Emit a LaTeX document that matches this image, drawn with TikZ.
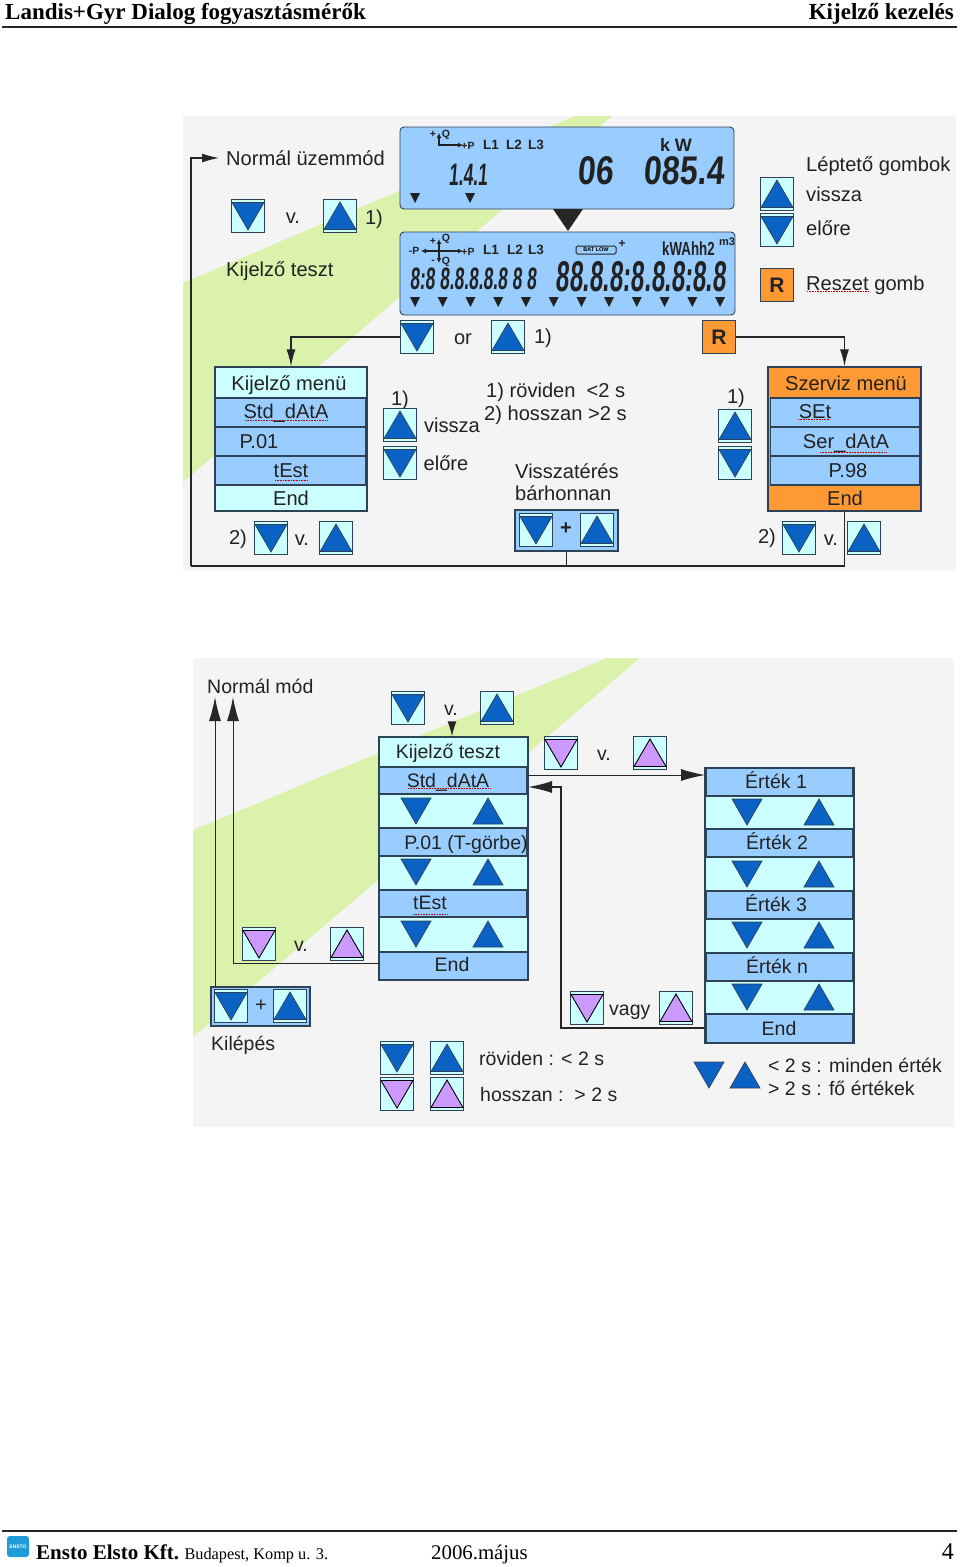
\documentclass[tikz,border=0pt]{standalone}
\usepackage{fontspec}
\usetikzlibrary{arrows.meta,calc}
\setmainfont{Liberation Sans}
\newfontfamily\serifx{Liberation Serif}
\newfontfamily\lcdf[FakeStretch=0.8,FakeSlant=0.08]{Liberation Sans}
\newfontfamily\lcdg[FakeStretch=0.56,FakeSlant=0.08]{Liberation Sans}
\newfontfamily\lcdn[FakeStretch=0.7]{Liberation Sans}
\definecolor{panel}{HTML}{F4F4F4}
\definecolor{stripe}{HTML}{DAF2AC}
\definecolor{rowblue}{HTML}{99CCFF}
\definecolor{pale}{HTML}{CCFFFF}
\definecolor{tri}{HTML}{0A62C4}
\definecolor{lila}{HTML}{CC99FF}
\definecolor{orng}{HTML}{FF9933}
\definecolor{edge}{HTML}{2E4256}
\definecolor{ink}{HTML}{222222}
\definecolor{logoblue}{HTML}{1E9BD8}
\tikzset{
  txt/.style={inner sep=0pt,text=ink,text height=17pt,text depth=2.5pt,font=\fontsize{20.1}{22}\selectfont},
  txtb/.style={inner sep=0pt,text=ink,text height=16.5pt,text depth=2.5pt,font=\fontsize{19.5}{21}\selectfont},
  btnbox/.style={draw=edge,line width=1.1pt,fill=pale,minimum width=33pt,minimum height=33pt,inner sep=0pt},
  rbox/.style={draw=edge,line width=1.1pt,fill=orng,minimum width=33pt,minimum height=33pt,inner sep=0pt,text=ink,font=\fontsize{21}{21}\selectfont\bfseries},
  trishape/.style={draw=edge,line width=.7pt,fill=tri},
  lilashape/.style={draw=black,line width=.9pt,fill=lila},
  frame/.style={draw=edge,line width=1.4pt,inner sep=0pt,fill=pale},
  rowbar/.style={draw=edge,line width=1.3pt,fill=rowblue,inner sep=0pt},
  combo/.style={draw=edge,line width=1.4pt,fill=rowblue,inner sep=0pt},
  lcd/.style={draw=edge,line width=.9pt,fill=rowblue,rounded corners=4pt,inner sep=0pt},
  conn/.style={draw=black!85,line width=1.2pt},
  tipsm/.style={-{Latex[length=17pt,width=9pt]}},
  bigtip/.style={-{Latex[length=24pt,width=12pt]}},
  lcdsmall/.style={inner sep=0pt,font=\fontsize{13.5}{14}\selectfont\bfseries,text=ink},
  lcdtiny/.style={inner sep=0pt,font=\fontsize{10.5}{11}\selectfont\bfseries,text=ink},
  lcdnum/.style={inner sep=0pt,text=ink},
  spell/.style={draw=red!75!black,line width=.6pt,densely dotted},
  headrule/.style={draw=black!85,line width=1.1pt},
  lcdmark/.style={fill=ink},
}
\newcommand\tdown[2]{\draw[trishape,shift={(#1,#2)}] (-15,-13)--(15,-13)--(0,13)--cycle;}
\newcommand\tup[2]{\draw[trishape,shift={(#1,#2)}] (-15,13)--(15,13)--(0,-13)--cycle;}
\newcommand\bdown[3]{\node[btnbox] (#1) at (#2,#3) {};
  \draw[trishape,shift={(#2,#3)}] (-16,-13.5)--(16,-13.5)--(0,14)--cycle;}
\newcommand\bup[3]{\node[btnbox] (#1) at (#2,#3) {};
  \draw[trishape,shift={(#2,#3)}] (-16,13.5)--(16,13.5)--(0,-14)--cycle;}
\newcommand\ldown[3]{\node[btnbox] (#1) at (#2,#3) {};
  \draw[lilashape,shift={(#2,#3)}] (-16,-13.5)--(16,-13.5)--(0,14)--cycle;}
\newcommand\lup[3]{\node[btnbox] (#1) at (#2,#3) {};
  \draw[lilashape,shift={(#2,#3)}] (-16,13.5)--(16,13.5)--(0,-14)--cycle;}
\newcommand\mk[2]{\fill[lcdmark,shift={(#1,#2)}] (-5,-5)--(5,-5)--(0,5)--cycle;}
\newcommand\spl[3]{\draw[spell] (#1,#3)--(#2,#3);}
\begin{document}
\begin{tikzpicture}[x=1pt,y=-1pt]
\useasboundingbox (0,0) rectangle (960,1567);
% ---- header / footer
\node[anchor=base west,inner sep=0pt,font=\serifx\bfseries\fontsize{23}{24}\selectfont] (head1) at (5,19) {Landis+Gyr Dialog fogyasztásmérők};
\node[anchor=base east,inner sep=0pt,font=\serifx\bfseries\fontsize{23}{24}\selectfont] (head2) at (954,19) {Kijelző kezelés};
\draw[headrule] (2,27)--(957,27);
\draw[headrule] (2,1531)--(957,1531);
\node[fill=logoblue,rounded corners=3pt,minimum width=22pt,minimum height=21pt,inner sep=0pt,text=white,font=\fontsize{5}{5}\selectfont\bfseries] (logo) at (18,1546.5) {ENSTO};
\node[anchor=base west,inner sep=0pt,font=\serifx\fontsize{16.3}{17}\selectfont] (foot1) at (36,1559) {{\bfseries\fontsize{21}{22}\selectfont Ensto Elsto Kft.} Budapest, Komp u. 3.};
\node[anchor=base west,inner sep=0pt,font=\serifx\fontsize{20.8}{21}\selectfont] (foot2) at (431,1559) {2006.május};
\node[anchor=base east,inner sep=0pt,font=\serifx\fontsize{24}{25}\selectfont] (foot3) at (954,1559) {4};
% ---- panels
\fill[panel] (183,116) rectangle (956,571);
\fill[stripe] (183,283)--(575,116)--(612,116)--(183,482)--cycle;
\fill[panel] (193,658) rectangle (954,1127);
\fill[stripe] (193,830)--(607,658)--(640,658)--(193,1037)--cycle;
% ---- LCD 1
\node[lcd,minimum width=334pt,minimum height=82pt] (lcdA) at (567,168) {};
\node[lcd,minimum width=335pt,minimum height=83pt] (lcdB) at (567.5,273.5) {};
\fill[black!85] (553,209)--(583,209)--(568,231)--cycle;
\draw[line width=1.5pt,ink,{Latex[length=5pt,width=5pt]}-{Latex[length=5pt,width=5pt]}] (439,133)--(439,145)--(463,145);
\node[lcdtiny] (a1) at (433,134) {+};
\node[lcdtiny] (a2) at (446,135) {Q};
\node[lcdtiny] (a3) at (468,146) {+P};
\node[lcdsmall] (a4) at (491,144.5) {L1};
\node[lcdsmall] (a5) at (514,144.5) {L2};
\node[lcdsmall] (a6) at (536,144.5) {L3};
\node[lcdsmall,font=\fontsize{18}{18}\selectfont\bfseries] (a7) at (676,145) {k W};
\node[lcdnum,font=\lcdg\bfseries\fontsize{31}{31}\selectfont] (a8) at (468,175) {1.4.1};
\node[lcdnum,font=\lcdf\bfseries\fontsize{40}{40}\selectfont] (a9) at (595,171) {06};
\node[lcdnum,font=\lcdf\bfseries\fontsize{40}{40}\selectfont] (a10) at (684,171) {085.4};
\mk{415}{198}\mk{470}{198}
% ---- LCD 2
\draw[line width=1.2pt,ink,{Latex[length=5pt,width=5pt]}-{Latex[length=5pt,width=5pt]}] (421,251)--(463,251);
\draw[line width=1.5pt,ink,{Latex[length=5pt,width=5pt]}-{Latex[length=5pt,width=5pt]}] (439,239)--(439,263);
\node[lcdtiny] (b1) at (433,241) {+};
\node[lcdtiny] (b2) at (446,239) {Q};
\node[lcdtiny] (b3) at (433,262) {-};
\node[lcdtiny] (b4) at (446,262) {Q};
\node[lcdtiny] (b5) at (414,251) {-P};
\node[lcdtiny] (b6) at (468,252) {+P};
\node[lcdsmall] (b7) at (491,249.5) {L1};
\node[lcdsmall] (b8) at (515,249.5) {L2};
\node[lcdsmall] (b9) at (536,249.5) {L3};
\node[draw=ink,line width=1pt,rounded corners=1.5pt,minimum width=40pt,minimum height=8pt,inner sep=0pt,font=\fontsize{5.5}{5.5}\selectfont\bfseries] (b10) at (596,250) {BAT LOW};
\node[lcdtiny,font=\fontsize{12}{12}\selectfont\bfseries] (b11) at (622,244) {+};
\node[lcdsmall,font=\lcdn\fontsize{19}{19}\selectfont\bfseries,anchor=west] (b12) at (662,249) {kWAhh2};
\node[lcdsmall,font=\fontsize{11}{11}\selectfont\bfseries,anchor=west] (b14) at (719,242) {m3};
\node[lcdnum,font=\lcdg\bfseries\fontsize{31}{31}\selectfont] (b15) at (473,279) {8:8 8.8.8.8.8 8 8};
\node[lcdnum,font=\lcdg\bfseries\fontsize{43}{43}\selectfont] (b16) at (641,277) {88.8.8:8.8.8:8.8};
\foreach \i in {0,...,11}{\pgfmathsetmacro\xx{415+\i*27.73}\mk{\xx}{302}}
% ---- upper controls
\node[txt,anchor=west] (normal) at (226,158) {Normál üzemmód};
\coordinate (normaltip) at (219,158);
\bdown{d1}{248}{216}
\node[txt] (v1) at (293,216) {v.};
\bup{u1}{340}{216}
\node[txt] (n1) at (374,217) {1)};
\node[txt,anchor=west] (kt) at (226,269) {Kijelző teszt};
\bup{u2}{777}{194}
\bdown{d2}{777}{230}
\node[rbox] (r1) at (777,285) {R};
\node[txt,anchor=west] (lg) at (806,164) {Léptető gombok};
\node[txt,anchor=west] (lv) at (806,194) {vissza};
\node[txt,anchor=west] (le) at (806,228) {előre};
\node[txt,anchor=west] (lr) at (806,283) {Reszet gomb};
\spl{807}{868}{291}
\bdown{d3}{417}{337}
\node[txt] (or1) at (463,337) {or};
\bup{u3}{508}{337}
\node[txt] (n2) at (543,336) {1)};
\node[rbox] (r2) at (719,337) {R};
% ---- Kijelzo menu
\node[frame,minimum width=152pt,minimum height=144pt] (kmenu) at (291,439) {};
\node[rowbar,minimum width=150pt,minimum height=29pt] (k1) at (290.5,412.5) {};
\node[rowbar,minimum width=150pt,minimum height=29pt] (k2) at (290.5,441.5) {};
\node[rowbar,minimum width=150pt,minimum height=29pt] (k3) at (290.5,470.5) {};
\node[txt] (kt0) at (289,383) {Kijelző menü};
\node[txt] (kt1) at (286,411) {Std\_dAtA};
\node[txt] (kt2) at (259,441) {P.01};
\node[txt] (kt3) at (291,470) {tEst};
\node[txt] (kt4) at (291,498) {End};
\spl{245}{327}{420}\spl{275}{308}{480}
% ---- middle
\node[txt] (n3) at (400,398) {1)};
\bup{u4}{400}{425}
\bdown{d4}{400}{463}
\node[txt] (mv) at (452,425) {vissza};
\node[txt] (me) at (446,463) {előre};
\node[txt,anchor=west] (m1) at (486,390) {1) röviden\ \ <2 s};
\node[txt,anchor=west] (m2) at (484,413) {2) hosszan >2 s};
\node[txt,anchor=west] (m3) at (515,471) {Visszatérés};
\node[txt,anchor=west] (m4) at (515,493) {bárhonnan};
\node[combo,minimum width=103pt,minimum height=41pt] (comboA) at (566.5,530.5) {};
\bdown{d5}{536}{530}
\bup{u5}{597}{530}
\node[inner sep=0pt,text=ink,font=\fontsize{20}{20}\selectfont\bfseries] (plusA) at (566,529) {+};
\node[txt] (n4) at (736,396) {1)};
\bup{u6}{735}{426}
\bdown{d6}{735}{463}
\node[txt] (n5) at (238,537) {2)};
\bdown{d7}{271}{538}
\node[txt] (v2) at (302,538) {v.};
\bup{u7}{336}{538}
\node[txt] (n6) at (767,536) {2)};
\bdown{d8}{799}{538}
\node[txt] (v3) at (831,538) {v.};
\bup{u8}{864}{538}
% ---- Szerviz menu
\node[frame,fill=orng,minimum width=153pt,minimum height=144pt] (smenu) at (844.5,439) {};
\node[rowbar,minimum width=149pt,minimum height=29pt] (s1) at (845,412.5) {};
\node[rowbar,minimum width=149pt,minimum height=29pt] (s2) at (845,441.5) {};
\node[rowbar,minimum width=149pt,minimum height=29pt] (s3) at (845,470.5) {};
\node[txt] (st0) at (846,383) {Szerviz menü};
\node[txt] (st1) at (815,411) {SEt};
\node[txt] (st2) at (846,441) {Ser\_dAtA};
\node[txt] (st3) at (848,470) {P.98};
\node[txt] (st4) at (845,498) {End};
\spl{798}{830}{419}\spl{820}{887}{452}
% ---- upper connectors
\coordinate (railL) at (191,566);
\draw[conn] (comboA.south) |- (railL);
\draw[conn] (smenu.south) |- (railL);
\draw[conn,tipsm] (railL) |- (normaltip);
\draw[conn,tipsm] (d3.west) -| (kmenu.north);
\draw[conn,tipsm] (r2.east) -| (smenu.north);
% ---- lower panel
\node[txtb,anchor=west] (nm) at (207,686) {Normál mód};
\coordinate (tipA) at (215,697);
\coordinate (tipB) at (233,697);
\bdown{d10}{408}{708}
\node[txtb] (v10) at (451,708) {v.};
\bup{u10}{497}{708}
\coordinate (vtop) at (452,722);
% test box
\node[frame,minimum width=149pt,minimum height=243pt] (tbox) at (453.5,858.5) {};
\node[rowbar,minimum width=147pt,minimum height=27pt] (t1) at (453,780.5) {};
\node[rowbar,minimum width=147pt,minimum height=28pt] (t2) at (453,842) {};
\node[rowbar,minimum width=147pt,minimum height=27pt] (t3) at (453,903.5) {};
\node[rowbar,minimum width=148pt,minimum height=28pt] (t4) at (453.5,966) {};
\tdown{416}{811}\tup{488}{811}
\tdown{416}{872}\tup{488}{872}
\tdown{416}{934}\tup{488}{934}
\node[txtb] (tt0) at (448,751) {Kijelző teszt};
\node[txtb] (tt1) at (448,780) {Std\_dAtA};
\node[txtb] (tt2) at (466,842) {P.01 (T-görbe)};
\node[txtb] (tt3) at (430,902) {tEst};
\node[txtb] (tt4) at (452,964) {End};
\spl{408}{490}{788}\spl{413}{447}{914}
\ldown{d11}{561}{753}
\node[txtb] (v11) at (604,753) {v.};
\lup{u11}{650}{753}
% value box
\node[frame,minimum width=149pt,minimum height=275pt] (vbox) at (779.5,905.5) {};
\node[rowbar,minimum width=147pt,minimum height=28pt] (w1) at (779.5,782) {};
\node[rowbar,minimum width=147pt,minimum height=28pt] (w2) at (779.5,843) {};
\node[rowbar,minimum width=147pt,minimum height=28pt] (w3) at (779.5,905) {};
\node[rowbar,minimum width=147pt,minimum height=28pt] (w4) at (779.5,967) {};
\node[rowbar,minimum width=147pt,minimum height=29pt] (w5) at (779.5,1028.5) {};
\tdown{747}{812}\tup{819}{812}
\tdown{747}{874}\tup{819}{874}
\tdown{747}{935}\tup{819}{935}
\tdown{747}{997}\tup{819}{997}
\node[txtb] (wt1) at (776,781) {Érték 1};
\node[txtb] (wt2) at (777,842) {Érték 2};
\node[txtb] (wt3) at (776,904) {Érték 3};
\node[txtb] (wt4) at (777,966) {Érték n};
\node[txtb] (wt5) at (779,1028) {End};
\ldown{d12}{587}{1008}
\node[txtb,anchor=west] (vagy) at (609,1008) {vagy};
\lup{u12}{676}{1008}
\tdown{709}{1075}\tup{745}{1075}
\node[txtb,anchor=west] (ln1) at (768,1065) {< 2 s : minden érték};
\node[txtb,anchor=west] (ln2) at (768,1088) {> 2 s : fő értékek};
\ldown{d13}{259}{944}
\node[txtb] (v13) at (301,944) {v.};
\lup{u13}{347}{944}
\node[combo,minimum width=99pt,minimum height=39pt] (comboB) at (260.5,1006.5) {};
\bdown{d14}{231}{1006}
\bup{u14}{290}{1006}
\node[inner sep=0pt,text=ink,font=\fontsize{20}{20}\selectfont] (plusB) at (261,1006) {+};
\node[txtb,anchor=west] (kil) at (211,1043) {Kilépés};
\bdown{d15}{397}{1058}
\bup{u15}{447}{1058}
\ldown{d16}{397}{1094}
\lup{u16}{447}{1094}
\node[txtb,anchor=west] (leg1) at (479,1058) {röviden : < 2 s};
\node[txtb,anchor=west] (leg2) at (480,1094) {hosszan :\ \ > 2 s};
% lower connectors
\coordinate (retcorner) at (561,1028);
\coordinate (retupper) at (561,787);
\coordinate (t1in) at (528,787);
\coordinate (t1out) at (528,775);
\coordinate (w1in) at (705,775);
\coordinate (endL) at (380,963);
\coordinate (comboTop) at (215,987);
\draw[conn,bigtip,line width=1pt] (comboTop) -- (tipA);
\draw[conn,bigtip,line width=1pt] (endL) -| (tipB);
\draw[conn,-{Latex[length=15pt,width=9pt]}] (vtop) -- (tbox.north -| vtop);
\draw[conn,bigtip,line width=1pt] (t1out) -- (w1in);
\draw[conn,bigtip,line width=1.4pt] (vbox.west |- retcorner) -- (retcorner) -- (retupper) -- (t1in);
\end{tikzpicture}
\end{document}
